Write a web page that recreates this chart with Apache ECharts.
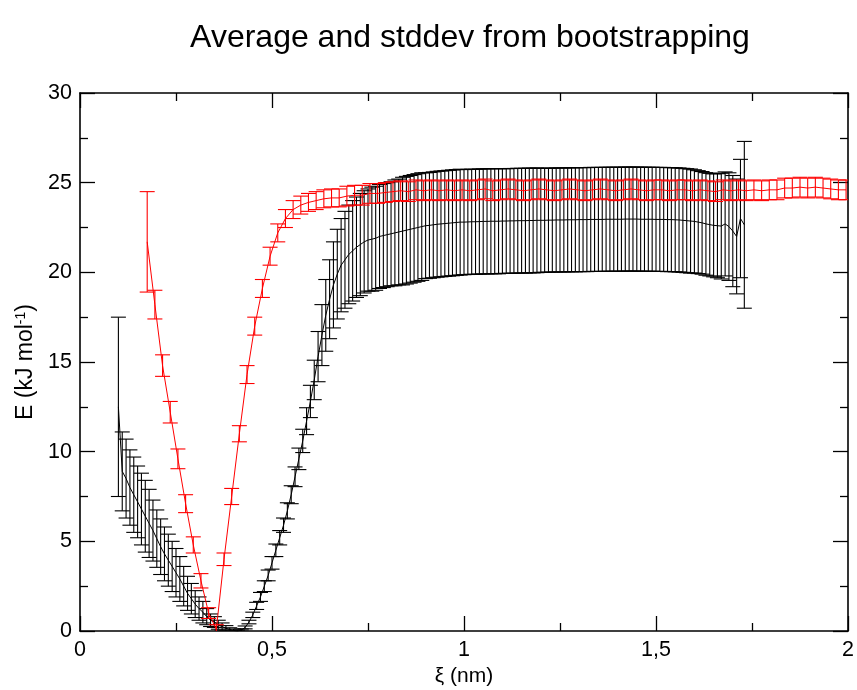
<!DOCTYPE html>
<html><head><meta charset="utf-8">
<script src="https://cdn.jsdelivr.net/npm/echarts@6/dist/echarts.min.js"></script>
<style>html,body{margin:0;padding:0;background:#fff}#c{width:857px;height:690px}</style>
</head><body><div id="c"></div>
<script>
// ---------- DATA ----------
const blackX = [
0.10,0.11,0.12,0.13,0.14,0.15,0.16,0.17,0.18,0.19,
0.20,0.21,0.22,0.23,0.24,0.25,0.26,0.27,0.28,0.29,
0.30,0.31,0.32,0.33,0.34,0.35,0.36,0.37,0.38,0.39,
0.40,0.41,0.42,0.43,0.44,0.45,0.46,0.47,0.48,0.49,
0.50,0.51,0.52,0.53,0.54,0.55,0.56,0.57,0.58,0.59,
0.60,0.61,0.62,0.63,0.64,0.65,0.66,0.67,0.68,0.69,
0.70,0.71,0.72,0.73,0.74,0.75,0.76,0.77,0.78,0.79,
0.80,0.81,0.82,0.83,0.84,0.85,0.86,0.87,0.88,0.89,
0.90,0.91,0.92,0.93,0.94,0.95,0.96,0.97,0.98,0.99,
1.00,1.01,1.02,1.03,1.04,1.05,1.06,1.07,1.08,1.09,
1.10,1.11,1.12,1.13,1.14,1.15,1.16,1.17,1.18,1.19,
1.20,1.21,1.22,1.23,1.24,1.25,1.26,1.27,1.28,1.29,
1.30,1.31,1.32,1.33,1.34,1.35,1.36,1.37,1.38,1.39,
1.40,1.41,1.42,1.43,1.44,1.45,1.46,1.47,1.48,1.49,
1.50,1.51,1.52,1.53,1.54,1.55,1.56,1.57,1.58,1.59,
1.60,1.61,1.62,1.63,1.64,1.65,1.66,1.67,1.68,1.69,
1.70,1.71,1.72,1.73];
const blackMean = [
12.5,8.9,8.5,8.0,7.6,7.2,6.8,6.4,6.0,5.6,
5.15,4.7,4.3,3.95,3.6,3.25,2.9,2.5,2.1,1.8,
1.5,1.25,1.05,0.8,0.6,0.5,0.35,0.25,0.15,0.08,
0.03,0.0,0.05,0.2,0.5,0.9,1.4,1.9,2.5,3.1,
3.8,4.5,5.2,5.9,6.7,7.6,8.6,9.6,10.6,11.7,
12.8,14.0,15.3,16.5,17.6,18.5,19.3,19.9,20.4,20.7,
21.0,21.2,21.4,21.55,21.7,21.8,21.85,21.9,22.0,22.05,
22.1,22.15,22.2,22.25,22.3,22.35,22.4,22.45,22.5,22.55,
22.6,22.62,22.65,22.68,22.7,22.72,22.74,22.76,22.78,22.8,
22.8,22.81,22.82,22.82,22.83,22.84,22.84,22.85,22.85,22.85,
22.86,22.86,22.87,22.87,22.88,22.88,22.88,22.89,22.89,22.9,
22.9,22.9,22.91,22.91,22.92,22.92,22.92,22.93,22.93,22.93,
22.94,22.94,22.94,22.95,22.95,22.95,22.95,22.96,22.96,22.96,
22.96,22.96,22.97,22.97,22.97,22.97,22.96,22.96,22.96,22.96,
22.95,22.95,22.95,22.94,22.94,22.93,22.92,22.9,22.88,22.86,
22.84,22.8,22.76,22.7,22.66,22.62,22.6,22.58,22.7,22.55,
22.3,22.0,23.0,22.65];
const blackErr = [
5.0,2.2,2.2,2.1,2.1,2.0,2.0,2.0,1.9,1.7,
1.6,1.55,1.5,1.45,1.4,1.35,1.25,1.1,0.95,0.85,
0.75,0.65,0.6,0.45,0.35,0.3,0.25,0.2,0.15,0.1,
0.08,0.05,0.06,0.08,0.1,0.15,0.2,0.25,0.3,0.3,
0.35,0.35,0.4,0.4,0.45,0.5,0.55,0.6,0.65,0.75,
0.9,1.1,1.4,1.7,2.0,2.2,2.4,2.5,2.6,2.7,
2.75,2.8,2.8,2.85,2.85,2.85,2.9,2.9,2.9,2.9,
2.9,2.9,2.95,2.95,3.0,3.0,3.0,3.0,3.0,3.0,
2.95,2.95,2.95,2.95,2.95,2.95,2.95,2.95,2.95,2.95,
2.93,2.93,2.93,2.93,2.93,2.93,2.93,2.93,2.93,2.93,
2.92,2.92,2.92,2.92,2.92,2.92,2.92,2.92,2.92,2.92,
2.9,2.9,2.9,2.9,2.9,2.9,2.9,2.9,2.9,2.9,
2.9,2.9,2.9,2.9,2.9,2.9,2.9,2.9,2.9,2.9,
2.9,2.9,2.9,2.9,2.9,2.9,2.9,2.9,2.9,2.9,
2.9,2.9,2.9,2.9,2.9,2.9,2.9,2.9,2.9,2.9,
2.88,2.87,2.86,2.86,2.86,2.87,2.9,2.95,2.9,3.0,
3.1,3.2,3.3,4.65];

const redX = [
0.175,0.195,0.215,0.235,0.255,0.275,0.295,0.315,0.335,0.355,
0.375,0.395,0.415,0.435,0.455,0.475,0.495,0.515,0.535,0.555,
0.575,0.595,0.615,0.635,0.655,0.675,0.695,0.715,0.735,0.755,
0.775,0.795,0.815,0.835,0.855,0.875,0.895,0.915,0.935,0.955,
0.975,0.995,1.015,1.035,1.055,1.075,1.095,1.115,1.135,1.155,
1.175,1.195,1.215,1.235,1.255,1.275,1.295,1.315,1.335,1.355,
1.375,1.395,1.415,1.435,1.455,1.475,1.495,1.515,1.535,1.555,
1.575,1.595,1.615,1.635,1.655,1.675,1.695,1.715,1.735,1.755,
1.775,1.795,1.815,1.835,1.855,1.875,1.895,1.915,1.935,1.955,
1.975,1.995];
const redMean = [
21.7,18.2,14.8,12.2,9.6,7.1,4.8,2.8,1.0,0.1,
4.0,7.5,11.0,14.3,17.0,19.1,20.9,22.2,23.0,23.5,
23.75,23.9,24.0,24.1,24.15,24.15,24.25,24.3,24.3,24.4,
24.4,24.45,24.5,24.55,24.5,24.6,24.55,24.6,24.55,24.6,
24.55,24.6,24.55,24.6,24.65,24.55,24.6,24.65,24.6,24.55,
24.6,24.65,24.6,24.55,24.6,24.65,24.6,24.55,24.6,24.65,
24.6,24.55,24.6,24.65,24.6,24.55,24.6,24.6,24.55,24.6,
24.6,24.55,24.6,24.55,24.5,24.6,24.55,24.6,24.55,24.6,
24.55,24.6,24.6,24.7,24.7,24.75,24.7,24.75,24.7,24.65,
24.6,24.6];
const redErr = [
2.8,0.8,0.6,0.6,0.55,0.5,0.45,0.4,0.3,0.25,
0.35,0.45,0.45,0.5,0.5,0.5,0.5,0.5,0.5,0.5,
0.5,0.5,0.5,0.5,0.5,0.5,0.55,0.55,0.55,0.55,
0.55,0.55,0.55,0.55,0.55,0.55,0.55,0.55,0.55,0.55,
0.55,0.55,0.55,0.55,0.55,0.55,0.55,0.55,0.55,0.55,
0.55,0.55,0.55,0.55,0.55,0.55,0.55,0.55,0.55,0.55,
0.55,0.55,0.55,0.55,0.55,0.55,0.55,0.55,0.55,0.55,
0.55,0.55,0.55,0.55,0.55,0.55,0.55,0.55,0.55,0.55,
0.55,0.55,0.55,0.55,0.55,0.55,0.55,0.55,0.55,0.55,
0.55,0.55];

const titleText = 'Average and stddev from bootstrapping';
const xName = 'ξ (nm)';
const yName = 'E (kJ mol{sup|-1})';
const xMin = 0, xMax = 2, xStep = 0.5;
const yMin = 0, yMax = 30, yStep = 5;

// ---------- CHART ----------
const FONT = '"Liberation Sans", Arial, Helvetica, sans-serif';
const chart = echarts.init(document.getElementById('c'), null, {renderer: 'canvas'});

function errData(xs, m, e) { return xs.map((x, i) => [x, m[i] - e[i], m[i] + e[i]]); }
function lineData(xs, m) { return xs.map((x, i) => [x, m[i]]); }
function renderErr(color) {
  return function (params, api) {
    const x = api.value(0), lo = api.value(1), hi = api.value(2);
    const a = api.coord([x, lo]), b = api.coord([x, hi]);
    const hw = 7.5;
    const style = {stroke: color, lineWidth: 1.1, fill: null};
    return {type: 'group', children: [
      {type: 'line', shape: {x1: a[0], y1: a[1], x2: b[0], y2: b[1]}, style: style},
      {type: 'line', shape: {x1: a[0] - hw, y1: a[1], x2: a[0] + hw, y2: a[1]}, style: style},
      {type: 'line', shape: {x1: b[0] - hw, y1: b[1], x2: b[0] + hw, y2: b[1]}, style: style}
    ]};
  };
}

const tickStyle = {color: '#000', width: 1.3};
function mkX(pos, labels) {
  return {
    type: 'value', min: xMin, max: xMax, interval: xStep, position: pos,
    axisLine: {show: true, onZero: false, lineStyle: {color: '#000', width: 1.6}},
    axisTick: {show: true, inside: true, length: 15, lineStyle: tickStyle},
    minorTick: {show: true, splitNumber: 2, length: 8, lineStyle: tickStyle},
    splitLine: {show: false}, minorSplitLine: {show: false},
    axisLabel: labels ? {show: true, color: '#000', fontSize: 21.5, fontFamily: FONT, margin: 8,
      showMinLabel: true, showMaxLabel: true,
      formatter: v => String(v).replace('.', ',')} : {show: false},
    name: labels ? xName : '', nameLocation: 'middle', nameGap: 35,
    nameTextStyle: {color: '#000', fontSize: 21, fontFamily: FONT}
  };
}
function mkY(pos, labels) {
  return {
    type: 'value', min: yMin, max: yMax, interval: yStep, position: pos,
    axisLine: {show: true, onZero: false, lineStyle: {color: '#000', width: 1.6}},
    axisTick: {show: true, inside: true, length: 15, lineStyle: tickStyle},
    minorTick: {show: true, splitNumber: 2, length: 8, lineStyle: tickStyle},
    splitLine: {show: false}, minorSplitLine: {show: false},
    axisLabel: labels ? {show: true, color: '#000', fontSize: 21.5, fontFamily: FONT, margin: 8,
      showMinLabel: true, showMaxLabel: true} : {show: false},
    name: labels ? yName : '', nameLocation: 'middle', nameGap: 41, nameRotate: 90,
    nameTextStyle: {color: '#000', fontSize: 23, fontFamily: FONT,
      rich: {sup: {fontSize: 14, fontFamily: FONT, color: '#000', verticalAlign: 'top', lineHeight: 23}}}
  };
}

chart.setOption({
  backgroundColor: '#fff',
  animation: false,
  title: {text: titleText, left: 465, top: 17, textAlign: 'center',
    textStyle: {color: '#000', fontSize: 32, fontWeight: 'normal', fontFamily: FONT}},
  grid: {left: 80, right: 9, top: 93, bottom: 59, containLabel: false, outerBoundsMode: 'none'},
  xAxis: [mkX('bottom', true), mkX('top', false)],
  yAxis: [mkY('left', true), mkY('right', false)],
  series: [
    {type: 'custom', name: 'black err', xAxisIndex: 0, yAxisIndex: 0, clip: true,
      renderItem: renderErr('#000'), data: errData(blackX, blackMean, blackErr), encode: {x: 0, y: [1, 2]}, z: 2},
    {type: 'line', name: 'black', xAxisIndex: 0, yAxisIndex: 0, data: lineData(blackX, blackMean),
      showSymbol: false, symbol: 'none', lineStyle: {color: '#000', width: 1}, clip: true, z: 3},
    {type: 'custom', name: 'red err', xAxisIndex: 0, yAxisIndex: 0, clip: true,
      renderItem: renderErr('#ff0000'), data: errData(redX, redMean, redErr), encode: {x: 0, y: [1, 2]}, z: 4},
    {type: 'line', name: 'red', xAxisIndex: 0, yAxisIndex: 0, data: lineData(redX, redMean),
      showSymbol: false, symbol: 'none', lineStyle: {color: '#ff0000', width: 1}, clip: true, z: 5}
  ]
});
</script>
</body></html>
